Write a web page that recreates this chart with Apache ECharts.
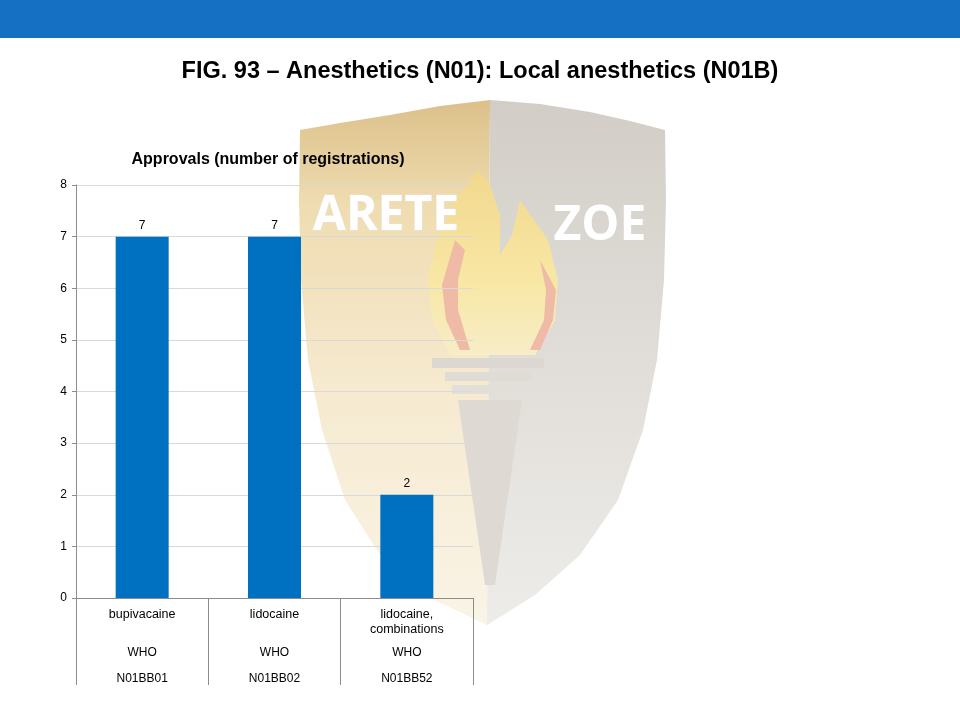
<!DOCTYPE html>
<html>
<head>
<meta charset="utf-8">
<script src="https://cdn.jsdelivr.net/npm/echarts@6/dist/echarts.min.js"></script>
<style>html,body{margin:0;padding:0;background:#fff;}#c{width:960px;height:720px;}</style>
</head>
<body>
<div id="c"></div>
<script>
const figureTitle = 'FIG. 93 – Anesthetics (N01): Local anesthetics (N01B)';
const chartTitle = 'Approvals (number of registrations)';
const substances = [['bupivacaine'], ['lidocaine'], ['lidocaine,', 'combinations']];
const sources = ['WHO', 'WHO', 'WHO'];
const atcCodes = ['N01BB01', 'N01BB02', 'N01BB52'];
const registrations = [7, 7, 2];
const yTicks = [0, 1, 2, 3, 4, 5, 6, 7, 8];

const categories = substances.map((s, i) => s.join(' ') + '|' + i);
const FONT = '"Liberation Sans", Arial, sans-serif';

const chart = echarts.init(document.getElementById('c'), null, {renderer: 'canvas'});
chart.setOption({
  backgroundColor: '#ffffff',
  animation: false,
  title: [
    {text: figureTitle, left: 480, top: 60, textAlign: 'center', padding: 0,
     textStyle: {fontFamily: FONT, fontSize: 23.5, fontWeight: 'bold', color: '#000'}},
    {text: chartTitle, left: 268, top: 152, textAlign: 'center', padding: 0,
     textStyle: {fontFamily: FONT, fontSize: 16, fontWeight: 'bold', color: '#000'}}
  ],
  graphic: [
    {type: 'rect', z: 100, shape: {x: 0, y: 0, width: 960, height: 38}, style: {fill: '#1570c4'}},
    {type: 'polygon', z: -20, silent: true,
     shape: {points: [[490,100],[440,106],[390,115],[340,123],[300,130],[299,200],[301,280],[308,360],[322,430],[345,500],[380,555],[430,598],[487,625]]},
     style: {fill: new echarts.graphic.LinearGradient(0, 0, 0, 1, [
       {offset: 0, color: '#dcc08a'}, {offset: 0.2, color: '#efdcb0'},
       {offset: 0.55, color: '#f6ead0'}, {offset: 1, color: '#faf4e6'}])}},
    {type: 'polygon', z: -20, silent: true,
     shape: {points: [[490,100],[540,104],[590,112],[630,121],[665,130],[666,200],[664,280],[657,360],[643,430],[618,500],[580,555],[535,595],[487,625]]},
     style: {fill: new echarts.graphic.LinearGradient(0, 0, 0, 1, [
       {offset: 0, color: '#d2cdc6'}, {offset: 0.4, color: '#dedbd6'}, {offset: 1, color: '#eeece9'}])}},
    {type: 'polygon', z: -19, silent: true,
     shape: {points: [[478,170],[455,200],[437,240],[428,280],[432,320],[450,355],[535,355],[555,320],[558,280],[548,240],[520,200],[512,235],[500,255],[500,215],[490,185]]},
     style: {fill: new echarts.graphic.LinearGradient(0, 0, 0, 1, [
       {offset: 0, color: '#f2d88e'}, {offset: 0.6, color: '#f8e7a4'}, {offset: 1, color: '#f7edc8'}])}},
    {type: 'polygon', z: -18, silent: true,
     shape: {points: [[455,240],[442,285],[446,320],[460,350],[470,350],[458,310],[458,280],[465,250]]},
     style: {fill: '#f0bba6'}},
    {type: 'polygon', z: -18, silent: true,
     shape: {points: [[540,260],[556,290],[553,320],[540,350],[530,350],[544,320],[546,290]]},
     style: {fill: '#f0bba6'}},
    {type: 'rect', z: -18, silent: true, shape: {x: 432, y: 358, width: 112, height: 10}, style: {fill: '#dcd8d1'}},
    {type: 'rect', z: -18, silent: true, shape: {x: 445, y: 372, width: 86, height: 9}, style: {fill: '#dfdbd5'}},
    {type: 'rect', z: -18, silent: true, shape: {x: 452, y: 385, width: 72, height: 9}, style: {fill: '#e2ded8'}},
    {type: 'polygon', z: -18, silent: true, shape: {points: [[458, 400], [522, 400], [495, 585], [485, 585]]},
     style: {fill: '#dedad3'}},
    {type: 'text', z: -15, silent: true,
     style: {text: 'ARETE', x: 386, y: 216, textAlign: 'center', textVerticalAlign: 'middle',
       font: 'bold 48px "Open Sans", sans-serif', fill: '#ffffff', stroke: '#e8e2d8', lineWidth: 1}},
    {type: 'text', z: -15, silent: true,
     style: {text: 'ZOE', x: 600, y: 226, textAlign: 'center', textVerticalAlign: 'middle',
       font: 'bold 48px "Open Sans", sans-serif', fill: '#ffffff'}}
  ],
  grid: {left: 76, right: 487, top: 185, bottom: 122, containLabel: false},
  xAxis: {
    type: 'category',
    data: categories,
    axisLine: {lineStyle: {color: '#8c8c8c', width: 1}},
    axisTick: {show: true, length: 87, lineStyle: {color: '#8c8c8c', width: 1}},
    axisLabel: {
      margin: 9, interval: 0,
      formatter: function (v) {
        const i = +v.split('|')[1];
        const n = substances[i];
        return '{a|' + n[0] + '}\n{a|' + (n[1] || ' ') + '}\n{w|' + sources[i] + '}\n{c|' + atcCodes[i] + '}';
      },
      rich: {
        a: {fontFamily: FONT, fontSize: 12.5, color: '#000', lineHeight: 15},
        w: {fontFamily: FONT, fontSize: 12, color: '#000', lineHeight: 31},
        c: {fontFamily: FONT, fontSize: 12, color: '#000', lineHeight: 21}
      }
    }
  },
  yAxis: {
    type: 'value', min: yTicks[0], max: yTicks[yTicks.length - 1], interval: 1,
    axisLine: {show: true, lineStyle: {color: '#8c8c8c', width: 1}},
    axisTick: {show: true, length: 4, lineStyle: {color: '#8c8c8c'}},
    axisLabel: {fontFamily: FONT, fontSize: 12, color: '#000', margin: 9},
    splitLine: {show: true, lineStyle: {color: '#d9d9d9', width: 1}}
  },
  series: [{
    type: 'bar',
    data: registrations,
    barWidth: 53,
    itemStyle: {color: '#0070c0'},
    label: {show: true, position: 'top', distance: 5, fontFamily: FONT, fontSize: 12, color: '#000'}
  }]
});
</script>
</body>
</html>
